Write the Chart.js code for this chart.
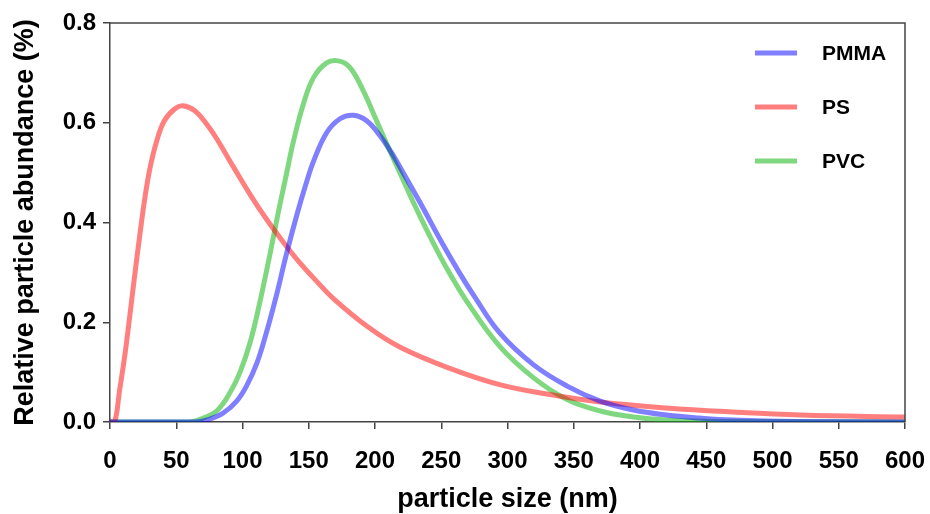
<!DOCTYPE html>
<html>
<head>
<meta charset="utf-8">
<script src="https://cdn.jsdelivr.net/npm/chart.js@4.4.0/dist/chart.umd.min.js"></script>
<style>
    body { margin: 0; background: #fff; }
    canvas { display: block; }
</style>
</head>
<body>
<canvas id="chart" width="930" height="514"></canvas>
<script>
// values (particle size in nm, abundance in %)
var pmmaX = [0, 65, 75.5, 85.5, 95.6, 103, 111, 118, 126, 133, 141, 148, 153.5, 163.5, 173.6, 183.6, 193.7, 203.8, 213.8, 224, 234, 250, 264, 274, 294, 319.5, 345, 370, 395, 420, 445, 470, 520, 600];
var pmmaY = [0, 0, 0.006, 0.018, 0.042, 0.072, 0.119, 0.179, 0.258, 0.335, 0.415, 0.478, 0.522, 0.580, 0.608, 0.615, 0.604, 0.574, 0.534, 0.487, 0.440, 0.362, 0.298, 0.256, 0.179, 0.115, 0.072, 0.042, 0.024, 0.014, 0.008, 0.004, 0.001, 0];

var psX = [0, 3.5, 7.3, 11.1, 14.9, 18.6, 22.4, 26.2, 30, 35, 41, 49, 55, 64, 73, 81, 93, 106, 118, 131, 143, 156, 168, 194, 219, 257, 294, 332, 370, 420, 470, 521, 600];
var psY = [0, 0, 0.065, 0.132, 0.212, 0.293, 0.373, 0.447, 0.507, 0.561, 0.604, 0.628, 0.634, 0.624, 0.597, 0.566, 0.512, 0.455, 0.407, 0.360, 0.320, 0.282, 0.249, 0.192, 0.150, 0.107, 0.075, 0.055, 0.040, 0.028, 0.020, 0.014, 0.010];

var pvcX = [0, 60, 70.4, 80.5, 90.6, 98, 105.7, 113, 121, 127, 133, 138.4, 146, 153.5, 163.5, 172.3, 181, 191, 201, 211, 221, 229, 239, 249, 257, 269, 294, 319.5, 345, 370, 395, 420, 460, 600];
var pvcY = [0, 0, 0.008, 0.022, 0.059, 0.099, 0.159, 0.239, 0.340, 0.420, 0.495, 0.562, 0.638, 0.690, 0.720, 0.724, 0.711, 0.665, 0.605, 0.545, 0.487, 0.440, 0.385, 0.333, 0.295, 0.243, 0.152, 0.089, 0.045, 0.022, 0.010, 0.004, 0.001, 0];

var labels = ["PMMA", "PS", "PVC"];
var colors = ["rgba(0, 0, 255, 0.5)", "rgba(255, 0, 0, 0.5)", "rgba(0, 178, 0, 0.5)"];

function toPoints(xs, ys){
    var pts = [];
    for(var i = 0; i < xs.length; i++){
        pts.push({x: xs[i], y: ys[i]});
    }
    return pts;
}

var axisColor = "#444";
var boldFont = "'Liberation Sans', Arial, sans-serif";

// legend drawn inside the plot, top right
var insideLegend = {
    id: "insideLegend",
    afterDatasetsDraw: function(chart){
        var ctx = chart.ctx;
        var area = chart.chartArea;
        ctx.save();
        // frame on top and right
        ctx.strokeStyle = axisColor;
        ctx.lineWidth = 1.5;
        ctx.beginPath();
        ctx.moveTo(area.left, area.top);
        ctx.lineTo(area.right, area.top);
        ctx.lineTo(area.right, area.bottom);
        ctx.stroke();

        ctx.font = "bold 21px " + boldFont;
        ctx.textBaseline = "middle";
        ctx.fillStyle = "#000";
        chart.data.datasets.forEach(function(ds, i){
            var y = area.top + 30 + i * 54;
            ctx.strokeStyle = ds.borderColor;
            ctx.lineWidth = 5;
            ctx.beginPath();
            ctx.moveTo(area.right - 150, y);
            ctx.lineTo(area.right - 108, y);
            ctx.stroke();
            ctx.fillText(ds.label, area.right - 83, y + 1);
        });
        ctx.restore();
    }
};

var datasets = [
    toPoints(pmmaX, pmmaY),
    toPoints(psX, psY),
    toPoints(pvcX, pvcY)
].map(function(pts, i){
    return {
        label: labels[i],
        data: pts,
        borderColor: colors[i],
        borderWidth: 5,
        pointRadius: 0,
        fill: false,
        tension: 0.4
    };
});

new Chart(document.getElementById("chart"), {
    type: "line",
    data: { datasets: datasets },
    options: {
        responsive: false,
        animation: false,
        layout: { padding: { left: 6, right: 25, top: 23, bottom: 0 } },
        plugins: {
            legend: { display: false },
            tooltip: { enabled: false }
        },
        scales: {
            x: {
                type: "linear",
                min: 0,
                max: 600,
                ticks: {
                    stepSize: 50,
                    color: "#000",
                    padding: 18,
                    maxRotation: 0,
                    font: { family: boldFont, size: 24, weight: "bold" }
                },
                grid: { drawOnChartArea: false, tickLength: 7, color: axisColor, lineWidth: 1.5 },
                border: { color: axisColor, width: 1.5 },
                title: {
                    display: true,
                    text: "particle size (nm)",
                    color: "#000",
                    padding: { top: 4, bottom: -2 },
                    font: { family: boldFont, size: 27, weight: "bold" }
                },
                afterFit: function(scale){
                    scale.height = 92;
                    scale.paddingLeft = 0;
                    scale.paddingRight = 0;
                }
            },
            y: {
                min: 0,
                max: 0.8,
                ticks: {
                    stepSize: 0.2,
                    color: "#000",
                    padding: 7,
                    font: { family: boldFont, size: 24, weight: "bold" },
                    callback: function(v){ return v.toFixed(1); }
                },
                grid: { drawOnChartArea: false, tickLength: 7, color: axisColor, lineWidth: 1.5 },
                border: { color: axisColor, width: 1.5 },
                title: {
                    display: true,
                    text: "Relative particle abundance (%)",
                    color: "#000",
                    padding: { top: 3, bottom: 2 },
                    font: { family: boldFont, size: 27, weight: "bold" }
                },
                afterFit: function(scale){
                    scale.width = 104;
                    scale.paddingTop = 0;
                    scale.paddingBottom = 0;
                }
            }
        }
    },
    plugins: [insideLegend]
});
</script>
</body>
</html>
